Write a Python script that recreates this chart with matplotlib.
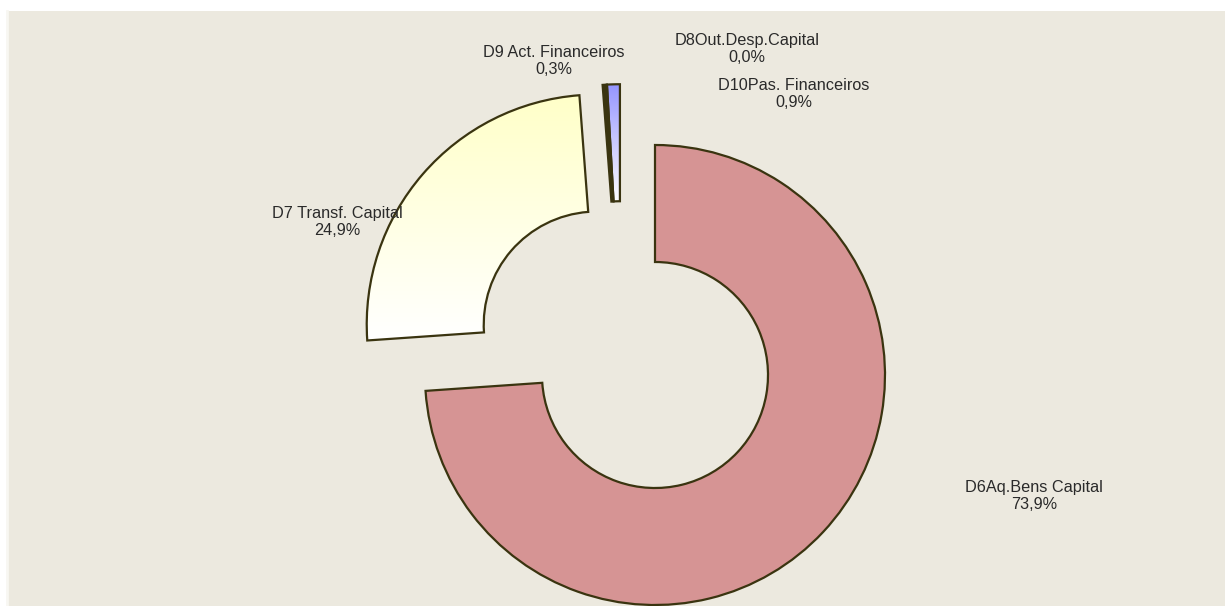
import numpy as np
import matplotlib
matplotlib.use("Agg")
import matplotlib.pyplot as plt
from matplotlib.patches import Wedge
from matplotlib.colors import LinearSegmentedColormap

# ---- data ----
categories = ["D6Aq.Bens Capital", "D7 Transf. Capital", "D9 Act. Financeiros",
              "D8Out.Desp.Capital", "D10Pas. Financeiros"]
values = [73.9, 24.9, 0.3, 0.0, 0.9]
value_labels = ["73,9%", "24,9%", "0,3%", "0,0%", "0,9%"]

# ---- style ----
W, H, DPI = 1225, 606, 100
R_PX = 230.0          # outer radius in pixels
CX, CY = 655, 375     # pie centre in pixels
HOLE = 113.0 / R_PX   # inner radius fraction
edge = "#3a3410"
bg = "#ECE9DF"
# fill: (top colour, bottom colour) for vertical gradients
fills = [("#D69494", "#D69494"), ("#FFFFC8", "#FFFFFF"), ("#3a3410", "#3a3410"),
         ("#FFFFFF", "#FFFFFF"), ("#9494FF", "#FFFFFF")]
# explode (distance in radius units, direction in degrees or None=mid angle)
explode = [(0.0, None), (0.335, None), (0.305, 120.0), (0.0, None), (0.305, 120.0)]
# label centres in pixels
label_pos = [(1034, 496), (337, 222), (554, 61), (747, 49), (794, 94)]

fig = plt.figure(figsize=(W / DPI, H / DPI), dpi=DPI, facecolor="white")
left_px, top_px = 7, 11
ax = fig.add_axes([left_px / W, 0, (W - left_px) / W, (H - top_px) / H])
ax.set_facecolor(bg)
ax.set_xlim((left_px - CX) / R_PX, (W - CX) / R_PX)
ax.set_ylim((CY - H) / R_PX, (CY - top_px) / R_PX)
ax.set_aspect("equal")
for s in ax.spines.values():
    s.set_visible(False)
ax.spines["left"].set_visible(True)
ax.spines["left"].set_color("#F8F7F2")
ax.spines["left"].set_linewidth(2)
ax.set_xticks([])
ax.set_yticks([])

total = sum(values)
start = 90.0
for i, v in enumerate(values):
    span = 360.0 * v / total
    t2 = start
    t1 = start - span
    start = t1
    if span <= 0:
        continue
    mid = np.deg2rad((t1 + t2) / 2)
    d, ang = explode[i]
    a = mid if ang is None else np.deg2rad(ang)
    c = (d * np.cos(a), d * np.sin(a))
    w = Wedge(c, 1.0, t1, t2, width=1.0 - HOLE, facecolor="none",
              edgecolor=edge, linewidth=1.6, zorder=3, joinstyle="miter")
    top, bot = fills[i]
    if top == bot:
        w.set_facecolor(top)
        ax.add_patch(w)
    else:
        ax.add_patch(w)
        bb = w.get_path().get_extents(w.get_patch_transform())
        cmap = LinearSegmentedColormap.from_list("g%d" % i, [bot, top])
        grad = np.linspace(0, 1, 256).reshape(-1, 1)
        im = ax.imshow(grad, cmap=cmap, origin="lower", aspect="auto",
                       extent=[bb.x0, bb.x1, bb.y0, bb.y1], zorder=2,
                       interpolation="bilinear")
        im.set_clip_path(w)

for i, (px, py) in enumerate(label_pos):
    ax.text((px - CX) / R_PX, (CY - py) / R_PX,
            categories[i] + "\n" + value_labels[i],
            ha="center", va="center", fontsize=11.7, color="#2a2a2a",
            family=["Liberation Sans", "DejaVu Sans"], linespacing=1.15,
            zorder=5)

fig.savefig("out.png", dpi=DPI, facecolor="white")
